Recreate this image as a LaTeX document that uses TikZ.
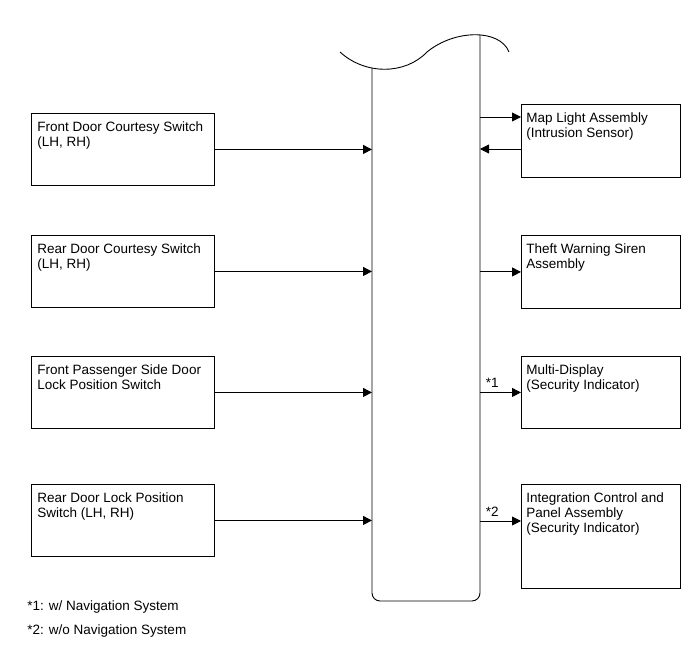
\documentclass[tikz,border=0pt]{standalone}
\usepackage{fontspec}
\setmainfont{Liberation Sans}
\usetikzlibrary{arrows.meta}

\begin{document}
\begin{tikzpicture}[x=1pt,y=-1pt,line width=0.9pt,line cap=butt,line join=miter,>={Triangle[length=9pt,width=9pt]}]
\tikzset{box/.style={draw,anchor=north west,inner sep=0pt},
lbox/.style={box,minimum width=183pt,minimum height=72pt},
rbox/.style={box,minimum width=159pt,minimum height=73pt},
txt/.style={anchor=north west,align=left,inner xsep=6pt,inner ysep=8.5pt,font=\fontsize{13.5}{15}\selectfont},
lbl/.style={font=\fontsize{13.5}{15}\selectfont,inner sep=4pt}
}
\useasboundingbox (0,0) rectangle (691,660);
\coordinate (barL) at (372,0);
\coordinate (barR) at (480,0);
% bar with broken top
\draw (340,52) .. controls (365,75) and (405,75) .. (427,52)
 .. controls (455,29) and (500,29) .. (509,52);
\draw[rounded corners=8pt] (372,68) -- (372,601) -- (480,601) -- (480,35);
% inputs
\node[lbox] (l1) at (31,113) {};
\node[lbox] (l2) at (31,235) {};
\node[lbox] (l3) at (31,356) {};
\node[lbox] (l4) at (31,484) {};
\node[txt] (l1t) at (l1.north west) {Front Door Courtesy Switch\\(LH, RH)};
\node[txt] (l2t) at (l2.north west) {Rear Door Courtesy Switch\\(LH, RH)};
\node[txt] (l3t) at (l3.north west) {Front Passenger Side Door\\Lock Position Switch};
\node[txt] (l4t) at (l4.north west) {Rear Door Lock Position\\Switch (LH, RH)};
\draw[->] (l1.east) -- (l1.east -| barL);
\draw[->] (l2.east) -- (l2.east -| barL);
\draw[->] (l3.east) -- (l3.east -| barL);
\draw[->] (l4.east) -- (l4.east -| barL);
% outputs
\node[rbox] (r1) at (521,104) {};
\node[rbox] (r2) at (521,235) {};
\node[rbox,minimum height=72pt] (r3) at (521,356) {};
\node[rbox,minimum height=104pt] (r4) at (521,484) {};
\node[txt,inner xsep=5pt] (r1t) at (r1.north west) {Map Light Assembly\\(Intrusion Sensor)};
\node[txt,inner xsep=5pt] (r2t) at (r2.north west) {Theft Warning Siren\\Assembly};
\node[txt,inner xsep=5pt] (r3t) at (r3.north west) {Multi-Display\\(Security Indicator)};
\node[txt,inner xsep=5pt] (r4t) at (r4.north west) {Integration Control and\\Panel Assembly\\(Security Indicator)};
\coordinate (m1) at ([yshift=-13pt]r1.north west);
\coordinate (m2) at ([yshift=-45pt]r1.north west);
\coordinate (m4) at ([yshift=-37pt]r4.north west);
\draw[->] (m1 -| barR) -- (m1);
\draw[->] (m2) -- (m2 -| barR);
\draw[->] (r2.west -| barR) -- (r2.west);
\draw[->] (r3.west -| barR) -- node[lbl,above,pos=0.3]{*1} (r3.west);
\draw[->] (m4 -| barR) -- node[lbl,above,pos=0.3]{*2} (m4);
% notes
\node[lbl,anchor=base west,inner sep=0pt] (n1) at (27,610) {*1: w/ Navigation System};
\node[lbl,anchor=base west,inner sep=0pt] (n2) at (27,634) {*2: w/o Navigation System};
\end{tikzpicture}
\end{document}
